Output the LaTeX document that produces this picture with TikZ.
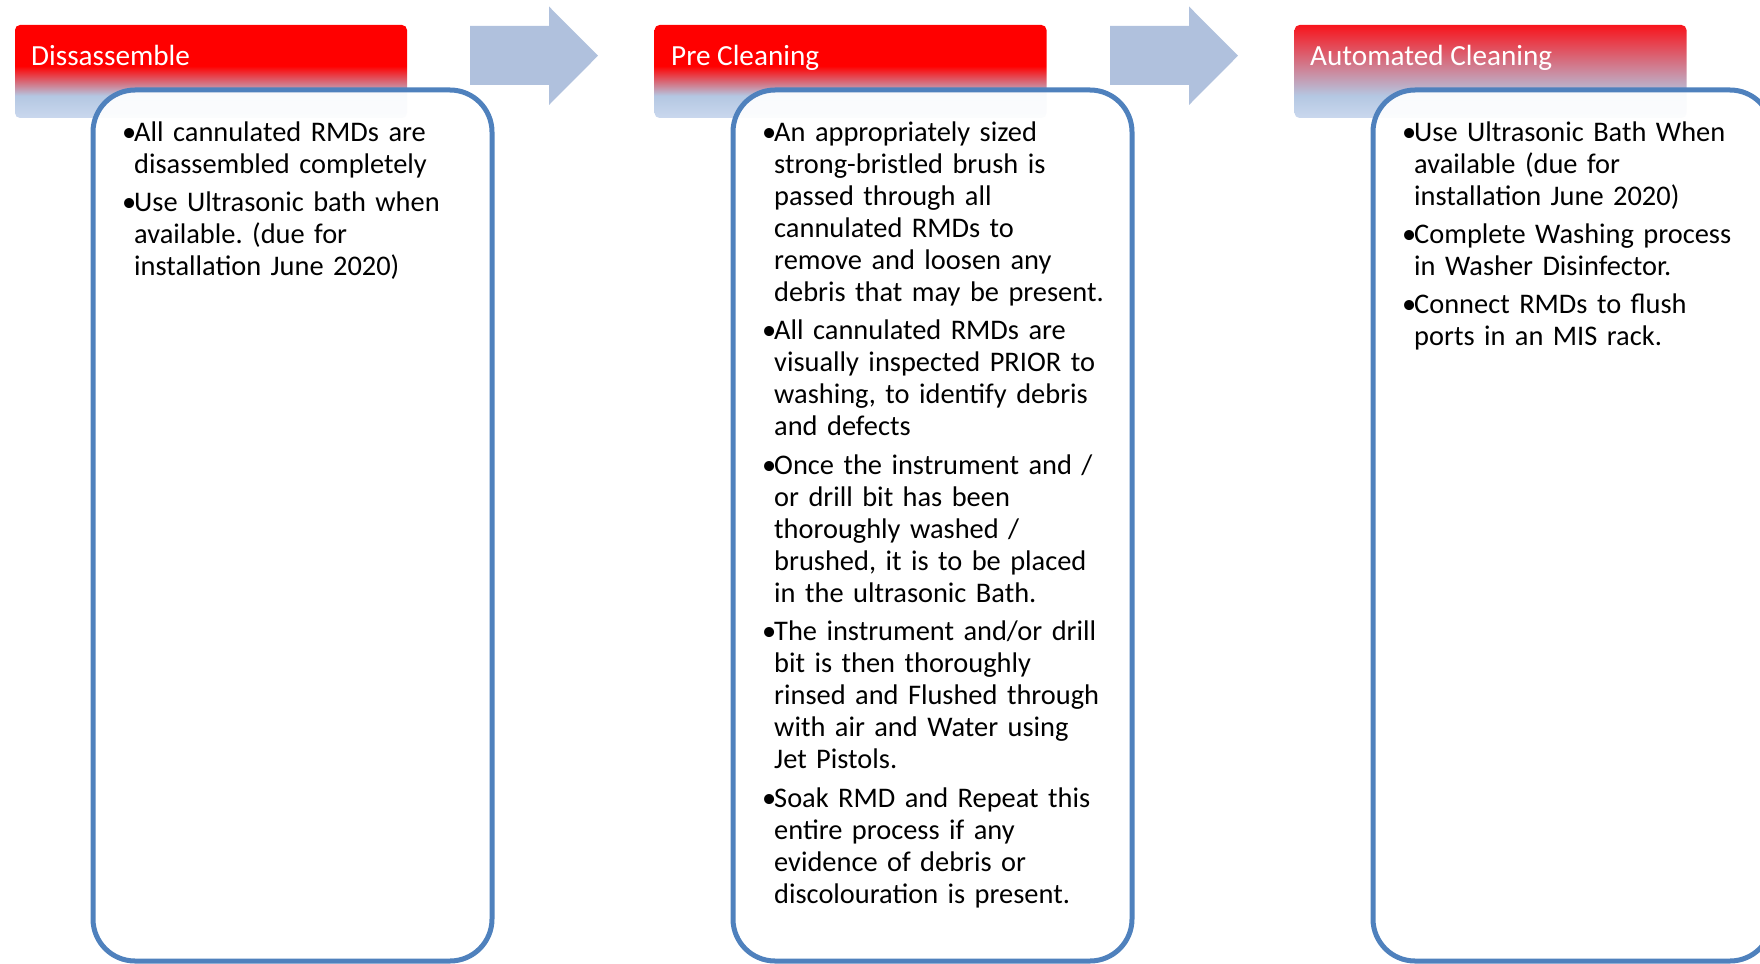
\documentclass[tikz,border=0pt]{standalone}
\usepackage{fontspec}
\setmainfont{Carlito}
\frenchspacing

\definecolor{hdrred}{RGB}{255,0,0}
\definecolor{hdrredsoft}{RGB}{248,20,28}
\definecolor{hdrblue}{RGB}{180,199,226}
\definecolor{hdrpale}{RGB}{202,216,238}
\definecolor{boxblue}{RGB}{79,129,189}
\definecolor{arrowblue}{RGB}{176,193,221}

\pgfdeclareverticalshading{hdrfade}{100bp}{color(0bp)=(hdrpale); color(25bp)=(hdrpale); color(37bp)=(hdrblue); color(53bp)=(hdrred); color(100bp)=(hdrred)}
\pgfdeclareverticalshading{hdrfadesoft}{100bp}{color(0bp)=(hdrpale); color(25bp)=(hdrpale); color(37bp)=(hdrblue); color(75bp)=(hdrredsoft); color(100bp)=(hdrredsoft)}

% one bullet point, wrapped lines hang under the text
\newcommand{\bpoint}[1]{\noindent\hangindent=12pt\hangafter=1\makebox[12pt][l]{\textbullet}#1\par\vspace{6pt}}

\tikzset{
  hdr/.style={rectangle, rounded corners=5pt, minimum width=392pt, minimum height=93pt, inner sep=0pt},
  hdrtext/.style={anchor=base west, inner sep=0pt, text=white, font=\fontsize{29.2}{34}\selectfont},
  stagebox/.style={draw=boxblue, line width=5pt, fill=white, fill opacity=0.93, rounded corners=42pt, minimum width=399pt, minimum height=871pt},
  body/.style={anchor=base west, inner sep=0pt, text width=380pt, font=\fontsize{28.4}{32.1}\selectfont}
}

\begin{document}
\begin{tikzpicture}[x=1pt, y=-1pt]
  \useasboundingbox (0,0) rectangle (1760,963);
  \clip (0,0) rectangle (1760,963);

  % stage headers
  \node[hdr, shading=hdrfade] (hdr1) at (211,71.5) {};
  \node[hdr, shading=hdrfade] (hdr2) at (850.5,71.5) {};
  \node[hdr, shading=hdrfadesoft] (hdr3) at (1490.5,71.5) {};
  \node[hdrtext] (lbl1) at (31,66) {Dissassemble};
  \node[hdrtext] (lbl2) at (671,66) {Pre Cleaning};
  \node[hdrtext] (lbl3) at (1310,66) {Automated Cleaning};

  % arrows between stages
  \fill[arrowblue] (470,26) -- (549,26) -- (549,6.5) -- (598,55.7) -- (549,105) -- (549,85) -- (470,85) -- cycle;
  \fill[arrowblue] (1110,26) -- (1189,26) -- (1189,6.5) -- (1238,55.7) -- (1189,105) -- (1189,85) -- (1110,85) -- cycle;

  % stage boxes
  \node[stagebox] (box1) at (292.5,525.5) {};
  \node[stagebox] (box2) at (932.5,525.5) {};
  \node[stagebox] (box3) at (1572.5,525.5) {};

  \node[body] (txt1) at (122,141) {%
    \bpoint{All cannulated RMDs are\newline disassembled completely}%
    \bpoint{Use Ultrasonic bath when\newline available. (due for\newline installation June 2020)}};
  \node[body] (txt2) at (762,141) {%
    \bpoint{An appropriately sized\newline strong-bristled brush is\newline passed through all\newline cannulated RMDs to\newline remove and loosen any\newline debris that may be present.}%
    \bpoint{All cannulated RMDs are\newline visually inspected PRIOR to\newline washing, to identify debris\newline and defects}%
    \bpoint{Once the instrument and /\newline or drill bit has been\newline thoroughly washed /\newline brushed, it is to be placed\newline in the ultrasonic Bath.}%
    \bpoint{The instrument and/or drill\newline bit is then thoroughly\newline rinsed and Flushed through\newline with air and Water using\newline Jet Pistols.}%
    \bpoint{Soak RMD and Repeat this\newline entire process if any\newline evidence of debris or\newline discolouration is present.}};
  \node[body] (txt3) at (1402,141) {%
    \bpoint{Use Ultrasonic Bath When\newline available (due for\newline installation June 2020)}%
    \bpoint{Complete Washing process\newline in Washer Disinfector.}%
    \bpoint{Connect RMDs to flush\newline ports in an MIS rack.}};
\end{tikzpicture}
\end{document}
